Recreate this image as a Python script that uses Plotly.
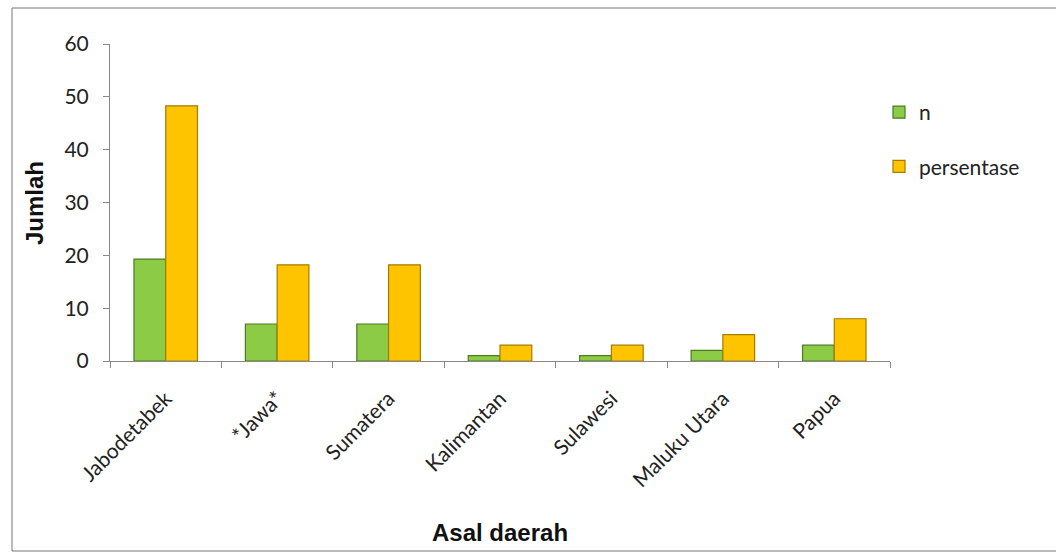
import plotly.graph_objects as go

categories = ["Jabodetabek", "*Jawa*", "Sumatera", "Kalimantan", "Sulawesi", "Maluku Utara", "Papua"]
n_values = [19.3, 7, 7, 1, 1, 2, 3]
persen_values = [48.3, 18.2, 18.2, 3, 3, 5, 8]
y_ticks = [0, 10, 20, 30, 40, 50, 60]

W, H = 1056, 552
ML, MR, MT, MB = 110, 166, 44, 191
pw, ph = W - ML - MR, H - MT - MB

def px_x(x):
    return (x - ML) / pw

def px_y(y):
    return 1 - (y - MT) / ph

TXT = "Lato, Open Sans, sans-serif"
TITLE = "Liberation Sans, Arial, sans-serif"

fig = go.Figure()
fig.add_trace(go.Bar(
    x=categories, y=n_values, name="n", legendgroup="a",
    marker=dict(color="#8CCB45", line=dict(color="#4E7A22", width=1.2)),
))
fig.add_trace(go.Bar(
    x=categories, y=persen_values, name="persentase", legendgroup="b",
    marker=dict(color="#FFC400", line=dict(color="#A57C00", width=1.2)),
))

fig.update_layout(
    width=W, height=H,
    margin=dict(l=ML, r=MR, t=MT, b=MB),
    paper_bgcolor="white", plot_bgcolor="white",
    barmode="group", bargap=0.43, bargroupgap=0,
    font=dict(family=TXT, size=21, color="#222"),
    showlegend=True,
    legend=dict(x=px_x(879), y=px_y(92), xanchor="left", yanchor="top",
                tracegroupgap=24, font=dict(family=TXT, size=21, color="#222"),
                itemwidth=30, bgcolor="rgba(0,0,0,0)"),
    xaxis=dict(
        tickangle=-45, showline=True, linecolor="#888", linewidth=1,
        ticks="outside", tickson="boundaries", ticklen=6, tickcolor="#888",
        tickfont=dict(family=TXT, size=21, color="#222"), ticklabelstandoff=16,
    ),
    yaxis=dict(
        range=[0, 60], tickvals=y_ticks, showline=True, linecolor="#888", linewidth=1,
        ticks="outside", ticklen=6, tickcolor="#888", showgrid=False, zeroline=False,
        tickfont=dict(family=TXT, size=21, color="#222"), ticklabelstandoff=10,
    ),
    annotations=[
        dict(text="<b>Asal daerah</b>", xref="paper", yref="paper",
             x=px_x(500), y=px_y(532), xanchor="center", yanchor="middle",
             showarrow=False, font=dict(family=TITLE, size=24, color="#111")),
        dict(text="<b>Jumlah</b>", xref="paper", yref="paper", textangle=-90,
             x=px_x(34), y=px_y(203), xanchor="center", yanchor="middle",
             showarrow=False, font=dict(family=TITLE, size=24, color="#111")),
    ],
    shapes=[dict(type="rect", xref="paper", yref="paper",
                 x0=px_x(12), x1=px_x(1060), y0=px_y(551), y1=px_y(8),
                 line=dict(color="#777", width=1), fillcolor="rgba(0,0,0,0)", layer="below")],
)

fig.write_html("out.html")
